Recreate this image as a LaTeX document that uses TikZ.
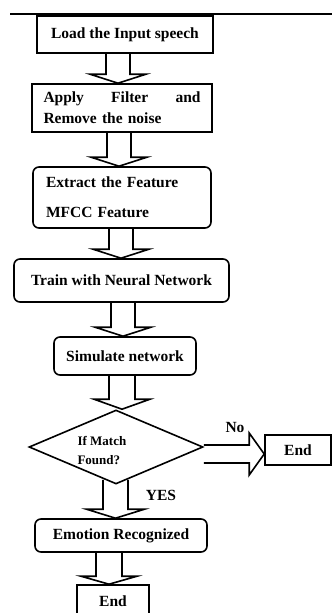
\documentclass[tikz,border=0pt]{standalone}
\usepackage{fontspec}
\setmainfont{Liberation Serif}
\usetikzlibrary{shapes.geometric}

% vertical block arrow: #1 source point, #2 target point, #3 shaft centre x,
% #4 shaft half width, #5 head half width, #6 head length
\newcommand\blkdown[6]{%
  \draw[blk] (#3-#4,0 |- #1) -- ([yshift=#6]#3-#4,0 |- #2)
    -- ([yshift=#6]#3-#5,0 |- #2) -- (#3,0 |- #2)
    -- ([yshift=#6]#3+#5,0 |- #2) -- ([yshift=#6]#3+#4,0 |- #2)
    -- (#3+#4,0 |- #1);}

\tikzset{
  lbl/.style={font=\bfseries\fontsize{15.5}{18}\selectfont},
  box/.style={draw, line width=1.6pt, inner sep=0pt, lbl},
  rbox/.style={box, rounded corners=6pt},
  blk/.style={draw, line width=1.6pt, line join=miter},
}

\begin{document}
\begin{tikzpicture}[x=1pt, y=-1pt]
\useasboundingbox (0,0) rectangle (332,613);

% header rule
\draw[line width=1.2pt] (10,14) -- (332,14);

% process boxes
\node[box, minimum width=176pt, minimum height=37pt] (b1) at (125,34.5) {Load the Input speech};
\node[box, minimum width=180pt, minimum height=48pt, text width=157pt, align=left,
      font=\bfseries\fontsize{15.5}{21}\selectfont] (b2) at (122,108)
      {Apply\hfill Filter\hfill and\\Remove the noise};
\node[rbox, minimum width=178pt, minimum height=61pt, text width=152pt, align=left,
      font=\bfseries\fontsize{15.5}{30}\selectfont] (b3) at (122,197.5)
      {Extract the Feature\\MFCC Feature};
\node[rbox, minimum width=215pt, minimum height=43pt] (b4) at (121.5,280.5) {Train with Neural Network};
\node[rbox, minimum width=142pt, minimum height=38pt] (b5) at (125,356) {Simulate network};

% decision
\node[draw, line width=1.6pt, shape=diamond, inner sep=0pt, minimum width=174pt,
      minimum height=74pt] (d) at (116,447) {};
\node[font=\bfseries\fontsize{13}{19}\selectfont, align=left, anchor=west] (dq) at (74,451)
      {If Match\\Found?};
\coordinate (dbot) at ([yshift=5pt]d.south);

\node[box, minimum width=66pt, minimum height=30pt] (e2) at (298,450) {End};
\node[rbox, minimum width=172pt, minimum height=33pt] (b7) at (121,535.5) {Emotion Recognized};
\node[box, minimum width=72pt, minimum height=32pt] (e1) at (113,601) {End};

% branch labels
\node[lbl] (no) at (235,427) {No};
\node[lbl] (yes) at (161,495) {YES};

% block arrows
\blkdown{b1.south}{b2.north}{118}{12}{28}{9pt}
\blkdown{b2.south}{b3.north}{119}{12}{28}{9pt}
\blkdown{b3.south}{b4.north}{121}{12}{28}{9pt}
\blkdown{b4.south}{b5.north}{123}{12}{28}{9pt}
\blkdown{b5.south}{d.north}{122}{13}{28}{10pt}
\blkdown{dbot}{b7.north}{115.5}{12.5}{29}{9pt}
\blkdown{b7.south}{e1.north}{109}{13}{28}{8pt}

% "No" branch
\draw[blk] (d.east |- 0,445) -- ([xshift=-15pt]e2.west |- 0,445)
  -- ([xshift=-15pt]e2.west |- 0,433) -- (e2.west |- 0,454)
  -- ([xshift=-15pt]e2.west |- 0,475) -- ([xshift=-15pt]e2.west |- 0,463)
  -- (d.east |- 0,463);
\end{tikzpicture}
\end{document}
